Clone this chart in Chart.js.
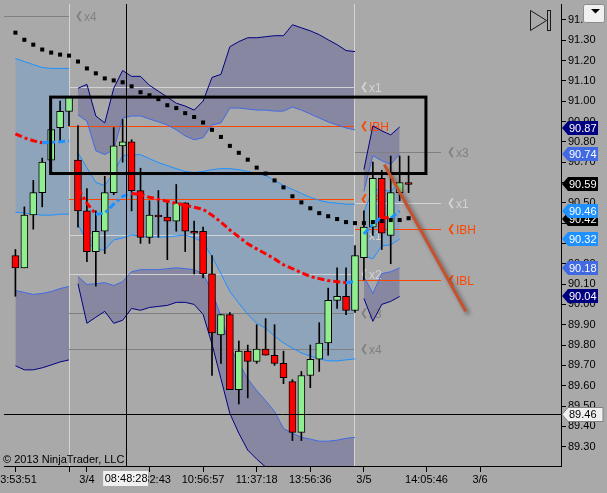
<!DOCTYPE html>
<html>
<head>
<meta charset="utf-8">
<script src="https://cdn.jsdelivr.net/npm/chart.js"></script>
<style>
html,body{margin:0;padding:0;background:#A9A9A9;overflow:hidden;}
#c{display:block;}
</style>
</head>
<body>
<canvas id="c" width="607" height="493"></canvas>
<script>
// ---------- candles (bar index 0..44) ----------
const opens  = [90.24,90.18,90.44,90.55,90.71,90.87,90.95,90.71,90.46,90.26,90.36,90.55,90.78,90.80,90.56,90.33,90.44,90.43,90.41,90.50,90.36,90.36,90.15,89.85,89.95,89.58,89.77,89.72,89.78,89.75,89.71,89.62,89.37,89.65,89.73,89.81,90.02,90.04,89.97,90.23,90.38,90.62,90.34,90.55,90.60];
const highs  = [90.27,90.48,90.61,90.72,90.86,91.00,91.02,90.88,90.57,90.46,90.63,90.87,90.91,90.81,90.67,90.51,90.56,90.51,90.59,90.50,90.41,90.38,90.24,89.95,89.96,89.82,89.80,89.90,89.93,89.90,89.77,89.63,89.67,89.80,89.91,90.08,90.18,90.18,90.29,90.46,90.70,90.66,90.73,90.73,90.73];
const lows   = [90.04,90.18,90.37,90.48,90.64,90.80,90.88,90.38,90.21,90.09,90.25,90.54,90.70,90.46,90.30,90.30,90.33,90.22,90.36,90.26,90.15,90.13,89.65,89.71,89.58,89.51,89.54,89.71,89.75,89.70,89.61,89.33,89.33,89.59,89.67,89.75,89.98,89.95,89.96,90.12,90.34,90.27,90.20,90.51,90.55];
const closes = [90.18,90.44,90.55,90.70,90.86,90.95,91.02,90.46,90.26,90.36,90.55,90.78,90.80,90.56,90.33,90.44,90.43,90.41,90.50,90.36,90.35,90.15,89.86,89.95,89.58,89.77,89.72,89.78,89.75,89.71,89.64,89.37,89.65,89.73,89.81,90.02,90.04,89.97,90.24,90.38,90.62,90.35,90.55,90.60,90.59];

// ---------- long moving average (black squares) ----------
const longMA = [91.337,91.302,91.278,91.254,91.239,91.229,91.224,91.195,91.161,91.137,91.112,91.102,91.093,91.073,91.044,91.029,91.010,90.980,90.966,90.941,90.922,90.895,90.859,90.824,90.780,90.746,90.712,90.673,90.644,90.610,90.576,90.532,90.502,90.473,90.449,90.434,90.420,90.405,90.400,90.400,90.405,90.410,90.415,90.415,90.424];

// ---------- session VWAP and bands ----------
const sessions = [[0,6],[7,38],[39,43]];
const vwap = [90.839,90.820,90.805,90.795,90.798,90.800,90.805,
  90.571,90.498,90.444,90.449,90.493,90.532,90.546,90.541,90.527,90.517,90.507,90.498,90.488,90.478,90.468,90.439,90.405,90.366,90.332,90.298,90.273,90.249,90.224,90.195,90.176,90.156,90.137,90.127,90.117,90.112,90.107,90.112,
  90.346,90.395,90.429,90.424,90.459,null];
const upper3 = [null,null,null,null,null,null,null,
  91.063,91.083,90.927,90.893,91.063,91.151,91.122,91.122,91.078,91.049,91.020,90.990,90.976,90.956,91.000,91.117,91.132,91.268,91.293,91.312,91.312,91.317,91.322,91.322,91.376,91.361,91.346,91.327,91.302,91.278,91.249,91.244,
  90.663,90.878,90.854,90.834,90.873,null];
const upper2 = [null,null,null,null,null,null,null,
  90.932,90.902,90.756,90.737,90.761,90.917,90.927,90.927,90.912,90.898,90.883,90.859,90.829,90.810,90.820,90.883,90.893,90.966,90.966,90.961,90.956,90.956,90.951,90.951,90.971,90.956,90.937,90.917,90.898,90.883,90.868,90.859,
  90.556,90.732,90.707,90.688,90.741,null];
const upper1 = [91.210,91.195,91.180,91.166,91.161,91.161,91.161,
  90.746,90.673,90.600,90.585,90.649,90.732,90.737,90.737,90.717,90.698,90.683,90.668,90.654,90.649,90.654,90.663,90.668,90.668,90.663,90.654,90.644,90.634,90.610,90.585,90.566,90.546,90.527,90.512,90.502,90.498,90.493,90.493,
  90.454,90.566,90.566,90.556,90.600,null];
const lower1 = [90.454,90.449,90.444,90.439,90.439,90.444,90.444,
  90.395,90.307,90.268,90.268,90.317,90.327,90.341,90.337,90.332,90.332,90.332,90.337,90.341,90.327,90.307,90.234,90.151,90.063,90.005,89.951,89.907,89.883,89.844,89.810,89.785,89.761,89.746,89.732,89.722,89.722,89.727,89.732,
  90.239,90.224,90.288,90.293,90.322,null];
const lower2 = [90.068,90.059,90.049,90.054,90.063,90.078,90.088,
  90.137,90.098,90.102,90.107,90.093,90.112,90.161,90.171,90.171,90.171,90.176,90.180,90.176,90.171,90.151,90.063,89.941,89.790,89.712,89.634,89.576,89.527,89.473,89.390,89.366,89.346,89.337,89.327,89.327,89.332,89.341,89.346,
  90.137,90.054,90.151,90.161,90.180,null];
const lower3 = [89.698,89.678,89.678,89.688,89.702,89.717,89.727,
  90.102,89.907,89.937,89.966,89.907,89.922,89.980,89.971,89.985,89.990,89.995,90.010,90.010,90.000,89.951,89.805,89.634,89.463,89.366,89.283,89.239,89.200,89.132,89.073,88.976,88.946,88.927,88.917,88.922,88.941,88.971,88.980,
  90.029,89.917,90.000,90.015,90.039,null];

// ---------- axes ----------
const priceTicks = [89.3,89.4,89.5,89.6,89.7,89.8,89.9,90.0,90.1,90.2,90.3,90.4,90.5,90.6,90.7,90.8,90.9,91.0,91.1,91.2,91.3,91.4];
const timeTickIdx = [0,6,8,15,21,27,33,39,46,52];
const timeLabels  = ['13:53:51','','3/4','09:32:43','10:56:57','11:37:18','13:56:36','3/5','14:05:46','3/6'];
const X_MIN = -1.27778, X_MAX = 61.0556, Y_MIN = 89.20488, Y_MAX = 91.47805;

// ---------- horizontal levels ----------
const levelPrice = [91.42, 91.07, 90.88, 90.52, 90.34, 90.15, 89.96, 89.78, 90.75, 90.50, 90.37, 90.12];
const levelLabel = ['x4','x1','IBH','IBL','x1','x2','x3','x4','x3','x1','IBH','IBL'];
const levelFrom  = [-1.3, 6, 6, 6, 6, 6, 6, 6, 38, 38, 38, 38];
const levelTo    = [6, 38, 38, 38, 38, 38, 38, 38, 47.67, 47.67, 47.67, 47.67];
const levelColor = ['#808080','#D3D3D3','#FF4500','#FF4500','#D3D3D3','#D3D3D3','#808080','#808080','#808080','#D3D3D3','#FF4500','#FF4500'];
const sessionBreakIdx = [6, 38];

// ---------- drawings ----------
const boxX = [3.94, 45.94], boxY = [91.02, 90.644];
const diagX = [41.28, 50.39], diagY = [90.688, 89.966];
const crossX = 12.39, crossY = 89.462, crossTime = '08:48:28';

// ---------- price markers on axis ----------
const markerVals = [90.87, 90.74, 90.59, 90.42, 90.46, 90.32, 90.18, 90.04];
const markerBg   = ['#000080','#4169E1','#000000','#000000','#1E90FF','#1E90FF','#4169E1','#000080'];

const FONT = '"Liberation Sans", Arial, sans-serif';
const PURPLE = 'rgba(0,0,128,0.2)', STEEL = 'rgba(30,144,255,0.2)';
const NAVY = '#000080', ROYAL = '#4169E1', DODGER = '#1E90FF';

const N = opens.length;
const idx = [...Array(N).keys()];
function seg(arr, s) { const out = []; for (let i = s[0]; i <= s[1]; i++) if (arr[i] != null) out.push({x: i, y: arr[i]}); return out; }

const datasets = [];
function addLine(data, color, extra) {
  datasets.push(Object.assign({type: 'line', data, borderColor: color, borderWidth: 1, pointRadius: 0, tension: 0, fill: false, order: 10}, extra));
  return datasets.length - 1;
}
sessions.forEach(s => {
  [[upper3, upper2, PURPLE, NAVY, ROYAL], [upper1, lower1, STEEL, DODGER, DODGER], [lower2, lower3, PURPLE, ROYAL, NAVY]].forEach(([a, b, fc, ca, cb]) => {
    const da = seg(a, s), db = seg(b, s);
    if (!da.length || !db.length) return;
    const ia = datasets.length;
    addLine(da, ca, {fill: {target: ia + 1}, backgroundColor: fc});
    addLine(db, cb, {});
  });
  datasets.push({type: 'line', data: seg(vwap, s), borderWidth: 3, borderDash: [7, 3, 3, 3], pointRadius: 0, tension: 0, fill: false, order: 2,
    borderColor: '#FF0000',
    segment: {borderColor: c => c.p1.parsed.y >= c.p0.parsed.y ? DODGER : '#FF0000'}});
});
// wicks
datasets.push({type: 'bar', data: idx.map(i => ({x: i, y: [lows[i], highs[i]]})), backgroundColor: '#000', borderWidth: 0, barThickness: 1, grouped: false, order: 4});
// bodies
datasets.push({type: 'bar', data: idx.map(i => ({x: i, y: [opens[i], closes[i]]})),
  backgroundColor: idx.map(i => closes[i] >= opens[i] ? '#90EE90' : '#FF0000'),
  borderColor: '#000', borderWidth: 1, borderSkipped: false, barThickness: 7, minBarLength: 2, grouped: false, order: 3});
// long MA squares
datasets.push({type: 'line', data: idx.map(i => ({x: i, y: longMA[i]})), showLine: false, pointStyle: 'rect', pointRadius: 2.85,
  pointBackgroundColor: '#000', pointBorderWidth: 0, order: 1});

function drawTag(ctx, py, bg, fg, border, text, w) {
  const x0 = 562, h = 14;
  ctx.beginPath();
  ctx.moveTo(x0, py);
  ctx.lineTo(x0 + 6, py - h / 2);
  ctx.lineTo(x0 + w, py - h / 2);
  ctx.lineTo(x0 + w, py + h / 2);
  ctx.lineTo(x0 + 6, py + h / 2);
  ctx.closePath();
  ctx.fillStyle = bg; ctx.fill();
  if (border) { ctx.strokeStyle = border; ctx.lineWidth = 1; ctx.stroke(); }
  ctx.fillStyle = fg; ctx.font = '11px ' + FONT; ctx.textBaseline = 'middle'; ctx.textAlign = 'left';
  ctx.fillText(text, x0 + 7, py + 0.5);
}

const overlay = {
  id: 'overlay',
  beforeDatasetsDraw(chart) {
    const {ctx, chartArea: ca} = chart; const xs = chart.scales.x, ys = chart.scales.y;
    ctx.save();
    ctx.beginPath(); ctx.rect(ca.left, ca.top, ca.right - ca.left, ca.bottom - ca.top); ctx.clip();
    ctx.lineWidth = 1;
    ctx.strokeStyle = '#D3D3D3';
    sessionBreakIdx.forEach(b => {
      const px = Math.floor(xs.getPixelForValue(b)) + 0.5;
      ctx.beginPath(); ctx.moveTo(px, ca.top); ctx.lineTo(px, ca.bottom); ctx.stroke();
    });
    levelPrice.forEach((p, i) => {
      const py = Math.round(ys.getPixelForValue(p)) + 0.5;
      const xa = Math.max(ca.left, xs.getPixelForValue(levelFrom[i]));
      const xb = Math.floor(xs.getPixelForValue(levelTo[i]));
      ctx.strokeStyle = levelColor[i];
      ctx.beginPath(); ctx.moveTo(xa, py); ctx.lineTo(xb, py); ctx.stroke();
      ctx.fillStyle = levelColor[i]; ctx.textBaseline = 'middle'; ctx.textAlign = 'left';
      ctx.font = 'bold 10px "DejaVu Sans"'; ctx.fillText('\u276E', xb + 6, py);
      ctx.font = '12px ' + FONT; ctx.fillText(levelLabel[i], xb + 15, py + 1);
    });
    ctx.restore();
  },
  afterDatasetsDraw(chart) {
    const {ctx, chartArea: ca} = chart; const xs = chart.scales.x, ys = chart.scales.y;
    ctx.save();
    ctx.beginPath(); ctx.rect(ca.left, ca.top, ca.right - ca.left, ca.bottom - ca.top); ctx.clip();
    const rx0 = xs.getPixelForValue(boxX[0]), rx1 = xs.getPixelForValue(boxX[1]);
    const ry0 = ys.getPixelForValue(boxY[0]), ry1 = ys.getPixelForValue(boxY[1]);
    ctx.strokeStyle = '#000'; ctx.lineWidth = 3;
    ctx.strokeRect(rx0, ry0, rx1 - rx0, ry1 - ry0);
    ctx.save();
    ctx.shadowColor = 'rgba(0,0,0,0.45)'; ctx.shadowBlur = 4; ctx.shadowOffsetX = 3; ctx.shadowOffsetY = 3;
    ctx.strokeStyle = '#C8502D'; ctx.lineWidth = 3;
    ctx.beginPath();
    ctx.moveTo(xs.getPixelForValue(diagX[0]), ys.getPixelForValue(diagY[0]));
    ctx.lineTo(xs.getPixelForValue(diagX[1]), ys.getPixelForValue(diagY[1]));
    ctx.stroke();
    ctx.restore();
    const cx = Math.round(xs.getPixelForValue(crossX)) + 0.5, cy = Math.round(ys.getPixelForValue(crossY)) + 0.5;
    ctx.lineWidth = 1; ctx.strokeStyle = '#000';
    ctx.beginPath(); ctx.moveTo(cx, ca.top); ctx.lineTo(cx, ca.bottom); ctx.moveTo(ca.left, cy); ctx.lineTo(ca.right, cy); ctx.stroke();
    ctx.restore();
  },
  afterDraw(chart) {
    const {ctx} = chart; const xs = chart.scales.x, ys = chart.scales.y;
    ctx.save();
    markerVals.forEach((v, i) => {
      drawTag(ctx, Math.round(ys.getPixelForValue(v)), markerBg[i], '#FFFFFF', null, v.toFixed(2), 36);
    });
    drawTag(ctx, Math.round(ys.getPixelForValue(crossY)) + 0.5, '#F0F0F0', '#000', '#808080', crossY.toFixed(2), 41);
    // crosshair time label
    const cx = xs.getPixelForValue(crossX);
    ctx.fillStyle = '#F0F0F0'; ctx.fillRect(cx - 23, 471, 45, 15);
    ctx.fillStyle = '#000'; ctx.font = '11px ' + FONT; ctx.textAlign = 'center'; ctx.textBaseline = 'middle';
    ctx.fillText(crossTime, cx, 478.5);
    // copyright
    ctx.textAlign = 'left'; ctx.fillText('\u00A9 2013 NinjaTrader, LLC', 3, 460);
    // play-to-end icon
    ctx.strokeStyle = '#1a1a1a'; ctx.lineWidth = 1;
    ctx.beginPath(); ctx.moveTo(530.5, 10.5); ctx.lineTo(546.5, 20.5); ctx.lineTo(530.5, 30.5); ctx.closePath(); ctx.stroke();
    ctx.strokeRect(547.5, 10.5, 3, 20);
    // dropdown button
    ctx.fillStyle = '#F0F0F0'; ctx.strokeStyle = '#8C8C8C';
    ctx.beginPath(); ctx.roundRect(583.5, 4.5, 21, 18, 2); ctx.fill(); ctx.stroke();
    ctx.fillStyle = '#000';
    ctx.beginPath(); ctx.moveTo(591, 9); ctx.lineTo(600, 9); ctx.lineTo(595.5, 13.5); ctx.closePath(); ctx.fill();
    ctx.restore();
  }
};

new Chart(document.getElementById('c'), {
  data: {datasets},
  options: {
    responsive: false, animation: false, devicePixelRatio: 1, events: [],
    layout: {padding: 0},
    plugins: {legend: {display: false}, tooltip: {enabled: false}, filler: {drawTime: 'beforeDatasetsDraw'}},
    scales: {
      x: {
        type: 'linear', min: X_MIN, max: X_MAX, position: 'bottom', offset: false,
        grid: {drawOnChartArea: false, drawTicks: true, tickLength: 6, color: '#000', offset: false},
        border: {display: true, color: '#000', width: 1},
        ticks: {autoSkip: false, maxRotation: 0, minRotation: 0, color: '#000', font: {size: 11, family: FONT}, padding: 1,
          callback: (v, i) => timeLabels[i]},
        afterBuildTicks: s => { s.ticks = timeTickIdx.map(v => ({value: v})); },
        afterFit: s => { s.height = 27; s.paddingLeft = 0; s.paddingRight = 0; }
      },
      y: {
        type: 'linear', position: 'right', min: Y_MIN, max: Y_MAX,
        grid: {drawOnChartArea: false, drawTicks: true, tickLength: 5, color: '#000'},
        border: {display: true, color: '#000', width: 1},
        ticks: {autoSkip: false, color: '#000', font: {size: 11, family: FONT}, padding: 2, callback: v => Number(v).toFixed(2)},
        afterBuildTicks: s => { s.ticks = priceTicks.map(v => ({value: v})); },
        afterFit: s => { s.width = 46; s.paddingTop = 0; s.paddingBottom = 0; }
      }
    }
  },
  plugins: [overlay]
});
</script>
</body>
</html>
